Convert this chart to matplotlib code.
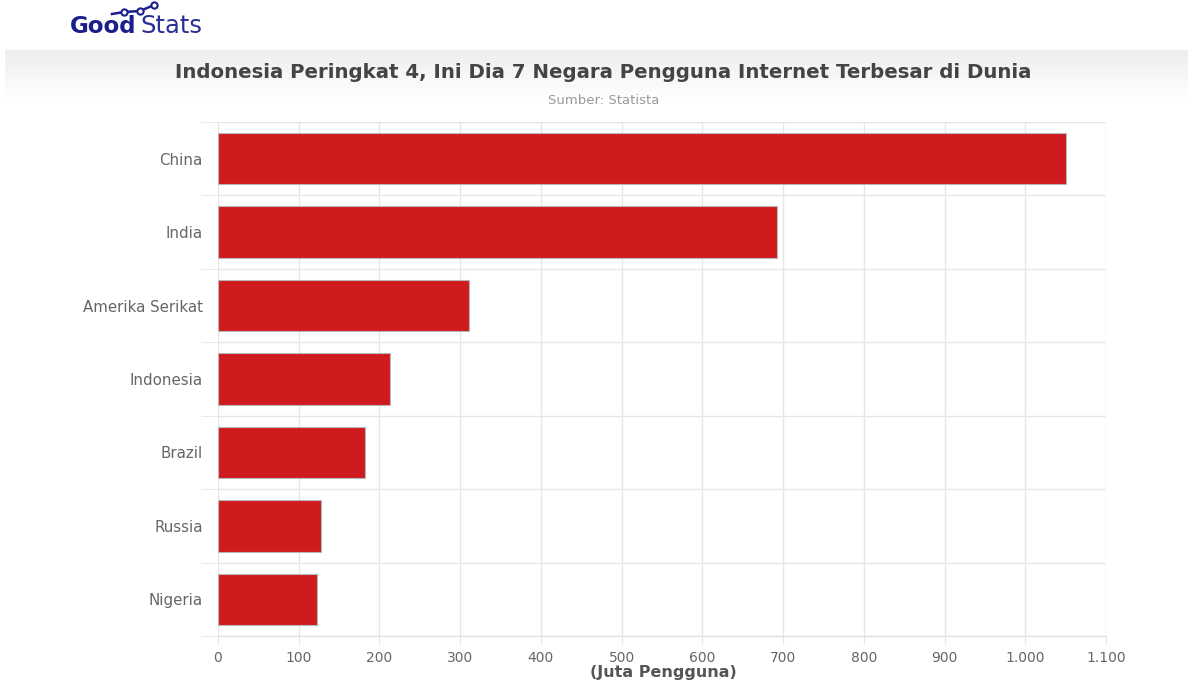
import matplotlib
matplotlib.use("Agg")
from matplotlib import pyplot as plt
from matplotlib import ticker
from matplotlib.lines import Line2D
import numpy as np

countries = ['China', 'India', 'Amerika Serikat', 'Indonesia', 'Brazil', 'Russia', 'Nigeria']
users = [1050, 692, 311, 212.9, 181.8, 127.6, 122.5]
x_ticks = [0, 100, 200, 300, 400, 500, 600, 700, 800, 900, 1000, 1100]

title = 'Indonesia Peringkat 4, Ini Dia 7 Negara Pengguna Internet Terbesar di Dunia'
subtitle = 'Sumber: Statista'
xlabel = '(Juta Pengguna)'

plt.rcParams['font.family'] = ['DejaVu Sans']

W, H = 1188, 681
fig = plt.figure(figsize=(W / 100, H / 100), dpi=100)
fig.patch.set_facecolor('white')

# grey header band fading to white
band = fig.add_axes([5 / W, 1 - 100 / H, 1 - 5 / W, 50 / H], zorder=0)
grad = np.linspace(0, 1, 100).reshape(-1, 1)
band.imshow(grad, aspect='auto', cmap=matplotlib.colors.LinearSegmentedColormap.from_list(
    'g', ['#eeeeee', '#ffffff']), extent=[0, 1, 0, 1], origin='upper')
band.axis('off')

# logo
navy = '#1b1f8a'
fig.text(70 / W, 1 - 33 / H, 'Good', fontsize=16.5, fontweight='heavy', color=navy,
         ha='left', va='baseline')
fig.text(140 / W, 1 - 33 / H, 'Stats', fontsize=17.5, color='#2a2f95',
         ha='left', va='baseline')
px = np.array([112, 124, 140, 154]) / W
py = 1 - np.array([14, 12, 11, 5]) / H
fig.add_artist(Line2D(px, py, color=navy, lw=1.8, marker='o', markersize=4.5,
                      markerfacecolor='white', markeredgecolor=navy, markeredgewidth=1.5,
                      markevery=[1, 2, 3]))

fig.text(0.5 * (172 + 1035) / W, 1 - 73 / H, title, fontsize=14.2, fontweight='bold',
         color='#444444', ha='center', va='center')
fig.text(0.5 * (172 + 1035) / W, 1 - 100 / H, subtitle, fontsize=9.5, color='#999999',
         ha='center', va='center')

ax = fig.add_axes([218 / W, 1 - 636 / H, (1106 - 218) / W, (636 - 122) / H], zorder=2)
ax.set_facecolor('none')
y = np.arange(len(countries))
ax.barh(y, users, height=0.7, color='#cf1a1e', edgecolor='#b8b8b8', linewidth=0.8, zorder=3)
ax.set_xlim(0, 1100)
ax.set_ylim(len(countries) - 0.5, -0.5)

ax.set_xticks(x_ticks)
ax.xaxis.set_major_formatter(ticker.FuncFormatter(lambda v, p: f'{int(v):,}'.replace(',', '.')))
ax.set_yticks(y)
ax.set_yticklabels(countries)
ax.set_yticks(np.arange(-0.5, len(countries)), minor=True)

ax.grid(axis='x', which='major', color='#e6e6e6', lw=1, zorder=0)
ax.grid(axis='y', which='minor', color='#e6e6e6', lw=1, zorder=0)
ax.tick_params(axis='x', which='major', length=6, color='#e6e6e6', labelcolor='#666666',
               labelsize=10, pad=5)
ax.tick_params(axis='y', which='major', length=0, labelcolor='#666666', labelsize=10.8, pad=11)
ax.tick_params(axis='y', which='minor', length=12, color='#e6e6e6')
for s in ['top', 'right', 'left']:
    ax.spines[s].set_visible(False)
ax.spines['bottom'].set_color('#dddddd')

fig.text(663 / W, 1 - 672 / H, xlabel, fontsize=11.5, fontweight='bold', color='#555555',
         ha='center', va='center')

fig.savefig('out.png', dpi=100)
